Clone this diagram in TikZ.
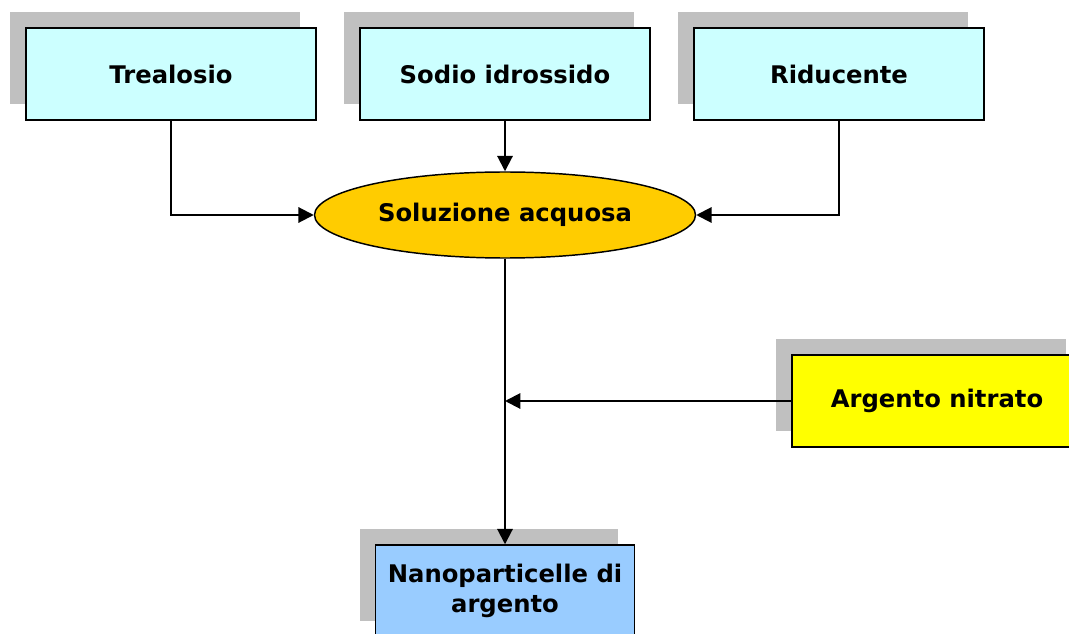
\documentclass[tikz,border=0pt]{standalone}
\usepackage{fontspec}
\setmainfont{DejaVu Sans}
\usepackage{xcolor}
\usetikzlibrary{shapes.geometric,shadows,arrows.meta}
\definecolor{inputcyan}{HTML}{CCFFFF}
\definecolor{solorange}{HTML}{FFCC00}
\definecolor{agyellow}{HTML}{FFFF00}
\definecolor{nanoblue}{HTML}{99CCFF}
\definecolor{shadegray}{HTML}{C0C0C0}

\begin{document}
\begin{tikzpicture}[x=0.75pt, y=-0.75pt,
  every node/.style={font=\bfseries\fontsize{18.2}{22}\selectfont},
  inbox/.style={draw, line width=1.1pt, minimum width=217.5pt, minimum height=69pt,
    inner sep=0pt, align=center,
    general shadow={fill=shadegray, shadow xshift=-12pt, shadow yshift=12pt}},
  conn/.style={line width=1.5pt, -{Triangle[length=11.5pt,width=11.5pt]}}]
  \useasboundingbox (0,0) rectangle (1069,634);

  % input boxes
  \node[inbox, fill=inputcyan] (treal)  at (171,74)  {Trealosio};
  \node[inbox, fill=inputcyan] (sodio)  at (505,74)  {Sodio idrossido};
  \node[inbox, fill=inputcyan] (riduc)  at (839,74)  {Riducente};

  % solution
  \node[ellipse, draw, line width=1.1pt, fill=solorange, inner sep=0pt,
        minimum width=285.75pt, minimum height=64.5pt] (sol) at (505,215) {Soluzione acquosa};

  \node[inbox, fill=agyellow] (argento) at (937,401) {Argento nitrato};
  \node[inbox, fill=nanoblue, minimum width=194pt] (nano) at (505,591) {Nanoparticelle di\\argento};
  \coordinate (join) at (sol.south |- argento.west);

  % connectors
  \draw[conn] (treal.south) |- (sol.west);
  \draw[conn] (sodio.south) -- (sol.north);
  \draw[conn] (riduc.south) |- (sol.east);
  \draw[conn] (sol.south) -- (nano.north);
  \draw[conn] (argento.west) -- (join);
\end{tikzpicture}
\end{document}
